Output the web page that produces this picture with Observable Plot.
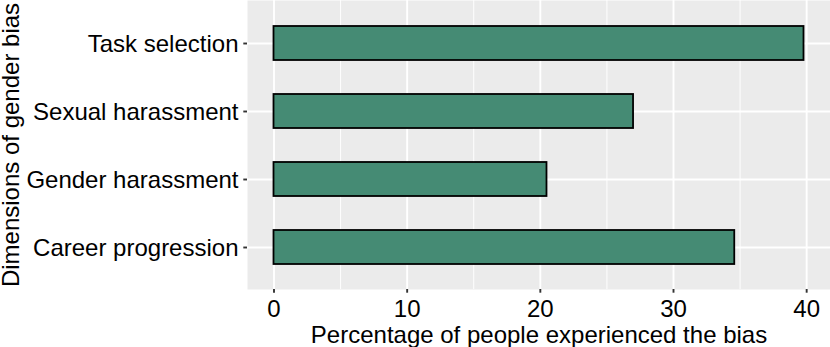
<!DOCTYPE html>
<html>
<head>
<meta charset="utf-8">
<script src="https://cdn.jsdelivr.net/npm/d3@7"></script>
<script src="https://cdn.jsdelivr.net/npm/@observablehq/plot@0.6"></script>
<style>
  html, body { margin: 0; padding: 0; background: white; }
  #chart svg { display: block; }
</style>
</head>
<body>
<div id="chart"></div>
<script>
// Data (top to bottom as drawn)
const categories = ["Task selection", "Sexual harassment", "Gender harassment", "Career progression"];
const values = [39.8, 27.0, 20.5, 34.6];
const xTicks = [0, 10, 20, 30, 40];
const xMinorTicks = [5, 15, 25, 35];
const xTitle = "Percentage of people experienced the bias";
const yTitle = "Dimensions of gender bias";

const data = categories.map((c, i) => ({category: c, value: values[i]}));
const xmax = d3.max(values);

const W = 830, H = 347, ML = 247, MR = 0, MT = 0, MB = 58;
const frameW = W - ML - MR, frameH = H - MT - MB;
const font = "'Liberation Sans', Arial, Helvetica, sans-serif";

const chart = Plot.plot({
  width: W,
  height: H,
  marginLeft: ML,
  marginRight: MR,
  marginTop: MT,
  marginBottom: MB,
  style: {fontFamily: font, fontSize: "24px", background: "white", color: "black"},
  x: {domain: [-0.05 * xmax, xmax * 1.05], axis: null},
  y: {domain: categories, paddingInner: 0.5, paddingOuter: 0.35, axis: null},
  marks: [
    Plot.frame({fill: "#EBEBEB", stroke: "none"}),
    Plot.ruleX(xMinorTicks, {x: d => d, stroke: "white", strokeWidth: 0.95}),
    Plot.ruleX(xTicks, {x: d => d, stroke: "white", strokeWidth: 1.9}),
    Plot.ruleY(categories, {y: d => d, stroke: "white", strokeWidth: 1.9}),
    Plot.barX(data, {x: "value", y: "category", fill: "#458B74", stroke: "black", strokeWidth: 1.8}),
    // axis ticks
    Plot.ruleX(xTicks, {x: d => d, stroke: "#333333", strokeWidth: 1.9, insetTop: frameH, insetBottom: -3.7}),
    Plot.ruleY(categories, {y: d => d, stroke: "#333333", strokeWidth: 1.9, insetLeft: -3.7, insetRight: frameW}),
    // tick labels
    Plot.text(xTicks, {x: d => d, text: d => String(d), frameAnchor: "bottom", lineAnchor: "top", dy: 10.5, fontSize: 24, fill: "black"}),
    Plot.text(categories, {y: d => d, text: d => d, frameAnchor: "left", textAnchor: "end", dx: -9, dy: 1, fontSize: 24, fill: "black"}),
    // axis titles
    Plot.text([xTitle], {text: d => d, frameAnchor: "bottom", lineAnchor: "top", dy: 36, fontSize: 24, fill: "black"}),
    Plot.text([yTitle], {text: d => d, frameAnchor: "left", textAnchor: "middle", rotate: -90, dx: -235.7, fontSize: 24, fill: "black"})
  ]
});
document.getElementById("chart").appendChild(chart);
</script>
</body>
</html>
